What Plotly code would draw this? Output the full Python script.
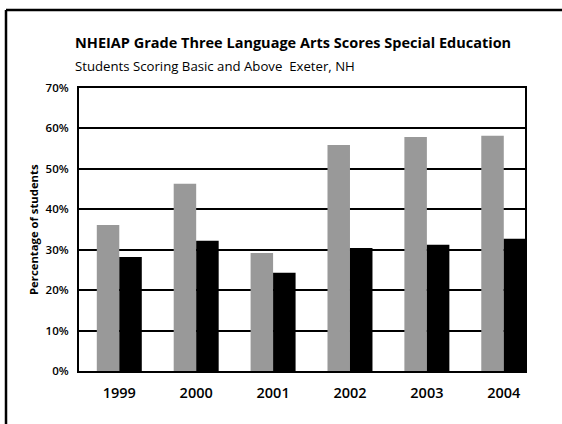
import plotly.graph_objects as go

years = ["1999", "2000", "2001", "2002", "2003", "2004"]
series_a = [36.1, 46.3, 29.2, 55.9, 57.9, 58.2]   # gray
series_b = [28.2, 32.2, 24.3, 30.4, 31.2, 32.7]   # black
y_ticks = [0, 10, 20, 30, 40, 50, 60, 70]
y_tick_labels = ["0%", "10%", "20%", "30%", "40%", "50%", "60%", "70%"]

xpos = list(range(len(years)))
FONT = "Open Sans"

fig = go.Figure()
fig.add_trace(go.Bar(x=xpos, y=series_a, marker=dict(color="#999999", line=dict(width=0)),
                     offsetgroup="a", showlegend=False))
fig.add_trace(go.Bar(x=xpos, y=series_b, marker=dict(color="#000000", line=dict(width=0)),
                     offsetgroup="b", showlegend=False))

L, R, T, B = 79, 37, 88, 53
W, H = 562, 424
pw, ph = W - L - R, H - T - B

def px(x):
    return (x - L) / pw

def py(y):
    return (H - B - y) / ph

fig.update_layout(
    width=W, height=H,
    margin=dict(l=L, r=R, t=T, b=B, pad=0),
    paper_bgcolor="white", plot_bgcolor="white",
    barmode="group", bargap=0.415, bargroupgap=0,
    font=dict(family=FONT, color="black"),
    xaxis=dict(range=[-0.524, 5.276], tickmode="array", tickvals=xpos, ticktext=years,
               showgrid=False, zeroline=False, showline=True, mirror=True,
               linecolor="black", linewidth=2, ticks="",
               tickfont=dict(family=FONT, size=14.5, weight=600), ticklabelstandoff=8),
    yaxis=dict(range=[0, 70], tickmode="array", tickvals=y_ticks, ticktext=y_tick_labels,
               showgrid=True, gridcolor="black", gridwidth=1.5, zeroline=False,
               showline=True, mirror=True, linecolor="black", linewidth=2, ticks="",
               tickfont=dict(family=FONT, size=11.5, weight=600), ticklabelstandoff=6),
    annotations=[
        dict(text="NHEIAP Grade Three Language Arts Scores Special Education",
             xref="paper", yref="paper", x=px(73), y=py(43), xanchor="left", yanchor="middle",
             showarrow=False, font=dict(family=FONT, size=14.5, weight=700)),
        dict(text="Students Scoring Basic and Above  Exeter, NH",
             xref="paper", yref="paper", x=px(73), y=py(66), xanchor="left", yanchor="middle",
             showarrow=False, font=dict(family=FONT, size=13.2)),
        dict(text="Percentage of students",
             xref="paper", yref="paper", x=px(33), y=py(230), xanchor="center", yanchor="middle",
             textangle=-90, showarrow=False, font=dict(family=FONT, size=11.3, weight=700)),
    ],
    shapes=[
        dict(type="line", xref="paper", yref="paper",
             x0=px(6), x1=px(562), y0=py(10), y1=py(10),
             line=dict(color="black", width=2.5), layer="below"),
        dict(type="line", xref="paper", yref="paper",
             x0=px(6), x1=px(6), y0=py(10), y1=py(424),
             line=dict(color="black", width=2.5), layer="below"),
    ],
)

fig.write_html(
    "out.html",
    config={"displayModeBar": False},
    post_script=(
        "document.documentElement.style.overflow='hidden';"
        "document.body.style.overflow='hidden';"
        "document.body.style.margin='0';document.body.style.padding='0';"
        "var d=document.getElementById('{plot_id}');"
        "d.style.position='fixed';d.style.left='0px';d.style.top='0px';"
    ),
)
